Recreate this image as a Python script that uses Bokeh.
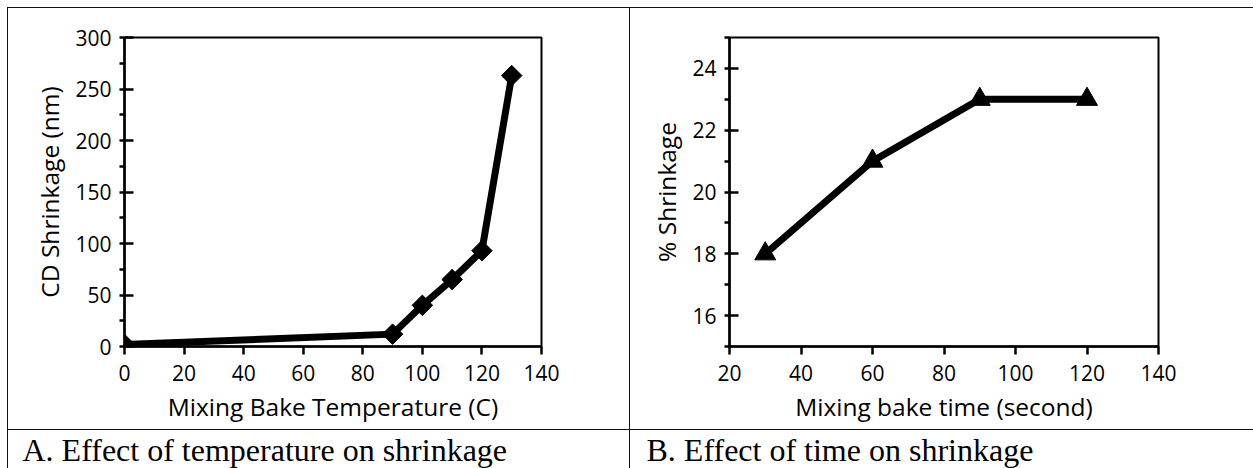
import math
from bokeh.plotting import figure
from bokeh.layouts import row, column
from bokeh.models import Range1d, SingleIntervalTicker, Spacer
from bokeh.core.properties import value
from bokeh.embed import file_html
from bokeh.resources import INLINE

# ---- data ----
temp_c = [0, 90, 100, 110, 120, 130]
cd_shrink_nm = [2, 12, 40, 65, 93, 263]

time_s = [30, 60, 90, 120]
pct_shrink = [18, 21, 23, 23]

xlabel_a = "Mixing Bake Temperature (C)"
ylabel_a = "CD Shrinkage (nm)"
xlabel_b = "Mixing bake time (second)"
ylabel_b = "% Shrinkage"
caption_a = "A. Effect of temperature on shrinkage"
caption_b = "B. Effect of time on shrinkage"

FONT = "Open Sans"
TICK_FS = "21px"
TITLE_FS = "24.5px"
FIG_H = 421
CAP_H = 38


def make_fig(width, xr, yr, xint, yint, xlab, ylab, left, top, right, bottom):
    p = figure(width=width, height=FIG_H, x_range=Range1d(*xr), y_range=Range1d(*yr),
               output_backend="svg", toolbar_location=None,
               min_border_left=left, min_border_top=top, min_border_right=right,
               min_border_bottom=bottom)
    p.xgrid.grid_line_color = None
    p.ygrid.grid_line_color = None
    p.outline_line_color = "black"
    p.outline_line_width = 2
    p.outline_line_alpha = 1
    p.background_fill_color = "white"
    p.border_fill_color = "white"

    p.xaxis.ticker = SingleIntervalTicker(interval=xint, num_minor_ticks=0)
    p.yaxis.ticker = SingleIntervalTicker(interval=yint, num_minor_ticks=2)
    for ax in (p.xaxis[0], p.yaxis[0]):
        ax.axis_line_width = 2.5
        ax.axis_line_color = "black"
        ax.major_tick_line_width = 2.5
        ax.major_tick_line_color = "black"
        ax.minor_tick_line_width = 2.5
        ax.minor_tick_line_color = "black"
        ax.major_label_text_font = FONT
        ax.major_label_text_font_size = TICK_FS
        ax.major_label_text_color = "black"
        ax.axis_label_text_font = FONT
        ax.axis_label_text_font_size = TITLE_FS
        ax.axis_label_text_font_style = "normal"
        ax.axis_label_text_color = "black"
    xa = p.xaxis[0]
    xa.major_tick_in = 0
    xa.major_tick_out = 8
    xa.minor_tick_line_color = None
    xa.major_label_standoff = 10
    xa.axis_label_standoff = 6
    xa.axis_label = xlab
    ya = p.yaxis[0]
    ya.major_tick_in = 9
    ya.major_tick_out = 0
    ya.minor_tick_in = 0
    ya.minor_tick_out = 5
    ya.major_label_standoff = 8
    ya.axis_label_standoff = 6
    ya.axis_label = ylab
    return p


# figure A occupies page x 8..628, y 8..428 ; frame 124..541 x 31..346
pA = make_fig(621, (0, 140), (0, 300), 20, 50, xlabel_a, ylabel_a, 116, 23, 88, 83)
pA.line(temp_c, cd_shrink_nm, line_width=7, color="black", line_join="miter")
pA.scatter(temp_c, cd_shrink_nm, marker="square", angle=math.pi / 4, size=14.5, color="black")

# figure B occupies page x 630..1252 ; frame 729..1158 x 37..346
pB = make_fig(623, (20, 140), (15, 25), 20, 2, xlabel_b, ylabel_b, 99, 29, 95, 83)
pB.line(time_s, pct_shrink, line_width=7, color="black", line_join="miter")
pB.scatter(time_s, pct_shrink, marker="triangle", size=21, color="black")


def caption_fig(width, text, x_off):
    # frame covers the whole canvas; ranges are in pixels (y up from bottom)
    c = figure(width=width, height=CAP_H, x_range=Range1d(0, width), y_range=Range1d(0, CAP_H),
               x_axis_type=None, y_axis_type=None, output_backend="svg",
               toolbar_location=None, min_border=0)
    c.outline_line_color = None
    c.background_fill_color = "white"
    c.border_fill_color = "white"
    c.xgrid.visible = False
    c.ygrid.visible = False
    c.text(x=[x_off], y=[19], text=[text], text_font=value("Liberation Serif"),
           text_font_size=value("32px"), text_color="black",
           text_baseline="alphabetic", text_align="left")
    return c


def bar(w, h, color="#111"):
    return Spacer(width=w, height=h, styles={"background-color": color})


inner = column(
    bar(1246, 1),
    row(bar(1, FIG_H), pA, bar(1, FIG_H), pB),
    bar(1246, 1),
    row(bar(1, CAP_H), caption_fig(621, caption_a, 14), bar(1, CAP_H),
        caption_fig(623, caption_b, 16)),
)
layout = column(
    Spacer(width=1253, height=7),
    row(Spacer(width=7, height=461), inner),
)

open("out.html", "w").write(file_html(layout, INLINE))
